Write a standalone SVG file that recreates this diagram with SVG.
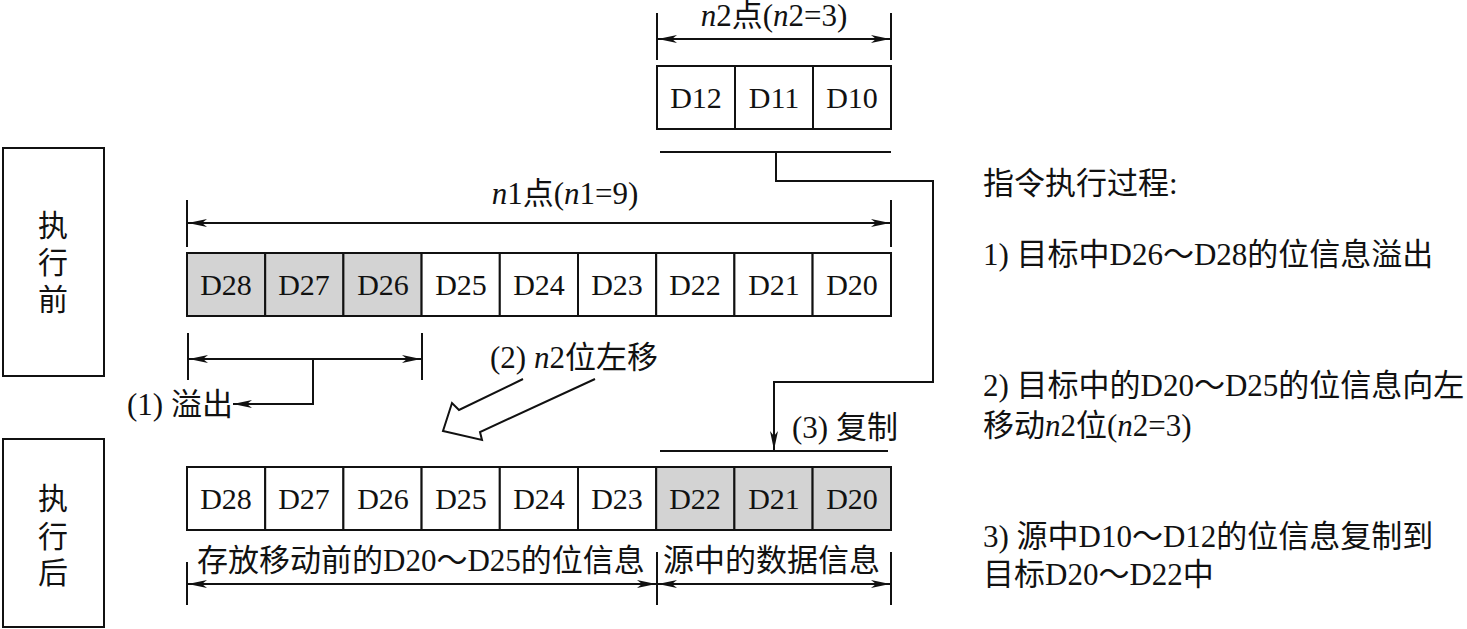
<svg xmlns="http://www.w3.org/2000/svg" width="1467" height="629" viewBox="0 0 1467 629">
<style>
text{font-family:"Liberation Serif","Noto Sans CJK SC",serif;font-size:30px;fill:#111}
.t{font-size:31px}
.c{text-anchor:middle}
.i{font-style:italic}
.box{fill:#fff;stroke:#111;stroke-width:2}
.g{fill:#d3d3d3;stroke:#111;stroke-width:2}
.ln{fill:none;stroke:#111;stroke-width:2}
</style>
<defs>
<marker id="ah" markerUnits="userSpaceOnUse" viewBox="-20 -5 21 10" markerWidth="21" markerHeight="10" refX="0" refY="0" orient="auto-start-reverse">
<path d="M0,0 L-19,-4 L-14,0 L-19,4 Z" fill="#111"/>
</marker>
</defs>
<rect width="1467" height="629" fill="#fff"/>

<g id="before-label">
<rect class="box" x="3" y="148" width="101" height="228"/>
<text class="c" x="53" y="236">执</text>
<text class="c" x="53" y="273">行</text>
<text class="c" x="53" y="310">前</text>
</g>
<g id="after-label">
<rect class="box" x="3" y="439" width="101" height="188"/>
<text class="c" x="53" y="509">执</text>
<text class="c" x="53" y="547">行</text>
<text class="c" x="53" y="583">后</text>
</g>

<g id="source">
<rect class="box" x="657" y="66" width="78" height="63"/>
<rect class="box" x="735" y="66" width="78" height="63"/>
<rect class="box" x="813" y="66" width="78" height="63"/>
<text class="c" x="696" y="108">D12</text>
<text class="c" x="774" y="108">D11</text>
<text class="c" x="852" y="108">D10</text>
</g>

<g id="row-before">
<rect class="g" x="187" y="253" width="78.2" height="63"/>
<rect class="g" x="265.2" y="253" width="78.2" height="63"/>
<rect class="g" x="343.4" y="253" width="78.2" height="63"/>
<rect class="box" x="421.6" y="253" width="78.2" height="63"/>
<rect class="box" x="499.8" y="253" width="78.2" height="63"/>
<rect class="box" x="578" y="253" width="78.2" height="63"/>
<rect class="box" x="656.2" y="253" width="78.2" height="63"/>
<rect class="box" x="734.4" y="253" width="78.2" height="63"/>
<rect class="box" x="812.6" y="253" width="78.4" height="63"/>
<text class="c" x="226" y="295">D28</text>
<text class="c" x="304" y="295">D27</text>
<text class="c" x="383" y="295">D26</text>
<text class="c" x="461" y="295">D25</text>
<text class="c" x="539" y="295">D24</text>
<text class="c" x="617" y="295">D23</text>
<text class="c" x="695" y="295">D22</text>
<text class="c" x="774" y="295">D21</text>
<text class="c" x="852" y="295">D20</text>
</g>

<g id="row-after">
<rect class="box" x="187" y="467" width="78.2" height="63"/>
<rect class="box" x="265.2" y="467" width="78.2" height="63"/>
<rect class="box" x="343.4" y="467" width="78.2" height="63"/>
<rect class="box" x="421.6" y="467" width="78.2" height="63"/>
<rect class="box" x="499.8" y="467" width="78.2" height="63"/>
<rect class="box" x="578" y="467" width="78.2" height="63"/>
<rect class="g" x="656.2" y="467" width="78.2" height="63"/>
<rect class="g" x="734.4" y="467" width="78.2" height="63"/>
<rect class="g" x="812.6" y="467" width="78.4" height="63"/>
<text class="c" x="226" y="509">D28</text>
<text class="c" x="304" y="509">D27</text>
<text class="c" x="383" y="509">D26</text>
<text class="c" x="461" y="509">D25</text>
<text class="c" x="539" y="509">D24</text>
<text class="c" x="617" y="509">D23</text>
<text class="c" x="695" y="509">D22</text>
<text class="c" x="774" y="509">D21</text>
<text class="c" x="852" y="509">D20</text>
</g>

<g id="labels">
<text class="c t" x="774" y="26"><tspan class="i">n</tspan>2点(<tspan class="i">n</tspan>2=3)</text>
<text class="c t" x="565" y="204"><tspan class="i">n</tspan>1点(<tspan class="i">n</tspan>1=9)</text>
<text class="t" x="127" y="415">(1) 溢出</text>
<text class="t" x="490" y="368">(2) <tspan class="i">n</tspan>2位左移</text>
<text class="t" x="792" y="438">(3) 复制</text>
<text class="t" x="197" y="571">存放移动前的D20～D25的位信息</text>
<text class="t" x="663" y="571">源中的数据信息</text>
</g>

<g id="process-text">
<text class="t" x="983" y="194">指令执行过程:</text>
<text class="t" x="983" y="265">1) 目标中D26～D28的位信息溢出</text>
<text class="t" x="983" y="396">2) 目标中的D20～D25的位信息向左</text>
<text class="t" x="983" y="436">移动<tspan class="i">n</tspan>2位(<tspan class="i">n</tspan>2=3)</text>
<text class="t" x="983" y="547">3) 源中D10～D12的位信息复制到</text>
<text class="t" x="983" y="585">目标D20～D22中</text>
</g>

<g id="connectors">
<!-- n2 dimension -->
<line class="ln" x1="657" y1="13" x2="657" y2="60"/>
<line class="ln" x1="891" y1="13" x2="891" y2="60"/>
<line class="ln" x1="658" y1="39" x2="890" y2="39" marker-start="url(#ah)" marker-end="url(#ah)"/>
<!-- n1 dimension -->
<line class="ln" x1="187" y1="200" x2="187" y2="247"/>
<line class="ln" x1="891" y1="200" x2="891" y2="247"/>
<line class="ln" x1="188" y1="223" x2="890" y2="223" marker-start="url(#ah)" marker-end="url(#ah)"/>
<!-- overflow -->
<line class="ln" x1="188" y1="333" x2="188" y2="380"/>
<line class="ln" x1="422" y1="333" x2="422" y2="380"/>
<line class="ln" x1="189" y1="359" x2="421" y2="359" marker-start="url(#ah)" marker-end="url(#ah)"/>
<polyline class="ln" points="313,359 313,404 233,404" marker-end="url(#ah)"/>
<!-- shift left hollow arrow -->
<polyline class="ln" points="523,379 459,410 452,403 443,431 482,440 480,432 595,379"/>
<!-- copy -->
<line class="ln" x1="660" y1="152" x2="891" y2="152"/>
<polyline class="ln" points="776,152 776,181 933,181 933,382 774,382 774,450" marker-end="url(#ah)"/>
<line class="ln" x1="660" y1="451" x2="888" y2="451"/>
<!-- bottom dimensions -->
<line class="ln" x1="187" y1="562" x2="187" y2="605"/>
<line class="ln" x1="657" y1="552" x2="657" y2="605"/>
<line class="ln" x1="891" y1="552" x2="891" y2="605"/>
<line class="ln" x1="188" y1="584" x2="656" y2="584" marker-start="url(#ah)" marker-end="url(#ah)"/>
<line class="ln" x1="658" y1="584" x2="890" y2="584" marker-start="url(#ah)" marker-end="url(#ah)"/>
</g>
</svg>
